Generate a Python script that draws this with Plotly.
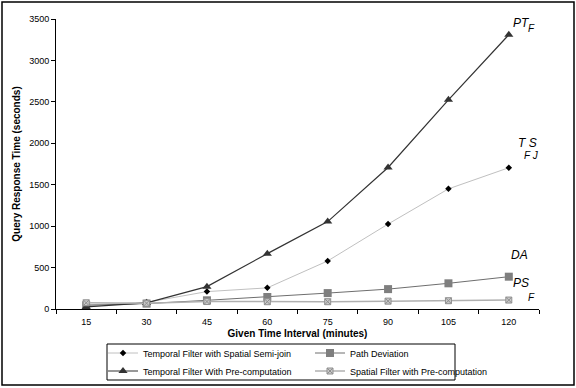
import plotly.graph_objects as go

intervals = ["15", "30", "45", "60", "75", "90", "105", "120"]
ts_fj = [50, 80, 210, 255, 580, 1025, 1450, 1705]
da = [45, 65, 105, 145, 192, 240, 310, 390]
pt_f = [25, 75, 270, 668, 1055, 1708, 2525, 3310]
ps_f = [75, 70, 90, 88, 88, 95, 100, 108]

FONT = "Liberation Sans, Arial, sans-serif"

fig = go.Figure()
fig.add_trace(go.Scatter(x=intervals, y=ts_fj, mode="lines+markers",
                         name="Temporal Filter with Spatial Semi-join",
                         line=dict(color="#c0c0c0", width=1),
                         marker=dict(symbol="diamond", size=5, color="#000000"),
                         legend="legend"))
fig.add_trace(go.Scatter(x=intervals, y=da, mode="lines+markers",
                         name="Path Deviation",
                         line=dict(color="#6e6e6e", width=1),
                         marker=dict(symbol="square", size=8, color="#7f7f7f"),
                         legend="legend"))
fig.add_trace(go.Scatter(x=intervals, y=pt_f, mode="lines+markers",
                         name="Temporal Filter With Pre-computation",
                         line=dict(color="#333333", width=1.2),
                         marker=dict(symbol="triangle-up", size=8, color="#333333"),
                         legend="legend2"))
fig.add_trace(go.Scatter(x=intervals, y=ps_f, mode="lines+markers",
                         name="Spatial Filter with Pre-computation",
                         line=dict(color="#b0b0b0", width=1.5),
                         marker=dict(symbol="square-x", size=6, color="#c8c8c8",
                                     line=dict(color="#909090", width=1)),
                         legend="legend2"))

L, R, T, B = 56, 37, 19, 79
W, H = 576, 388
pw, ph = W - L - R, H - T - B

def px(x):
    return (x - L) / pw

def py(y):
    return (H - B - y) / ph

ann = []
def lab(text, x, y, size=12):
    ann.append(dict(text=text, x=px(x), y=py(y), xref="paper", yref="paper",
                    xanchor="left", yanchor="middle", showarrow=False,
                    font=dict(family=FONT, size=size, color="#000000")))

lab("<i>PT</i>", 511, 23)
lab("<i>F</i>", 526, 29, 10)
lab("<i>T S</i>", 516, 143)
lab("<i>F J</i>", 522, 156, 10)
lab("<i>DA</i>", 509, 255)
lab("<i>PS</i>", 511, 283)
lab("<i>F</i>", 526, 297, 10)

shapes = [
    dict(type="rect", xref="paper", yref="paper",
         x0=px(2), x1=px(574), y0=py(2), y1=py(385),
         line=dict(color="#000000", width=1.5), fillcolor="rgba(0,0,0,0)"),
    dict(type="rect", xref="paper", yref="paper",
         x0=px(107), x1=px(455), y0=py(344), y1=py(380),
         line=dict(color="#000000", width=1), fillcolor="rgba(0,0,0,0)"),
]

leg_common = dict(orientation="h", xanchor="left", yanchor="middle",
                  bgcolor="rgba(0,0,0,0)", borderwidth=0,
                  entrywidth=162, entrywidthmode="pixels",
                  font=dict(family=FONT, size=9, color="#000000"),
                  itemwidth=30, tracegroupgap=0)

fig.update_layout(
    width=W, height=H,
    margin=dict(l=L, r=R, t=T, b=B, autoexpand=False),
    paper_bgcolor="white", plot_bgcolor="white",
    font=dict(family=FONT, size=9, color="#000000"),
    showlegend=True,
    legend=dict(x=px(103), y=py(353), **leg_common),
    legend2=dict(x=px(103), y=py(371), **leg_common),
    xaxis=dict(type="category", range=[-0.5, 7.5], showgrid=False,
               showline=True, linecolor="#000000", linewidth=1,
               ticks="outside", tickson="boundaries", ticklen=4,
               tickcolor="#000000", ticklabelstandoff=4,
               tickfont=dict(family=FONT, size=9),
               title=dict(text="<b>Given Time Interval (minutes)</b>",
                          font=dict(family=FONT, size=10), standoff=4)),
    yaxis=dict(range=[0, 3500], dtick=500, showgrid=False, zeroline=False,
               showline=True, linecolor="#000000", linewidth=1,
               ticks="outside", ticklen=4, tickcolor="#000000",
               tickfont=dict(family=FONT, size=9),
               title=dict(text="<b>Query Response Time (seconds)</b>",
                          font=dict(family=FONT, size=10), standoff=6)),
    annotations=ann,
    shapes=shapes,
)

fig.write_html("out.html", config={"displayModeBar": False},
               post_script="document.body.style.margin='0';document.body.style.padding='0';")
